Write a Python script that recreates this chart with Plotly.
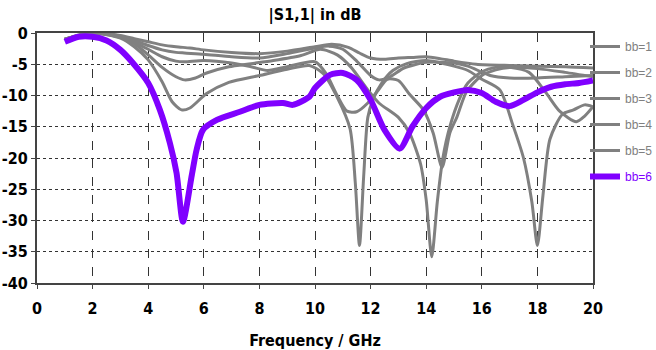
import plotly.graph_objects as go

# ---- data (frequency in GHz, |S11| in dB) ----
f_bb1 = [1, 1.5, 2, 2.5, 3, 3.5, 4, 4.5, 5, 5.5, 6, 7, 8, 9, 10, 10.6, 11.2, 11.6, 12, 12.5, 13, 13.5, 14, 14.5, 15, 15.8, 17, 18, 19, 20]
s_bb1 = [-1.0, -0.3, 0.0, -0.1, -0.4, -0.9, -1.4, -1.9, -2.2, -2.4, -2.7, -3.1, -3.3, -2.9, -2.2, -1.8, -2.3, -3.2, -4.0, -4.2, -4.0, -3.9, -3.8, -4.1, -4.5, -5.0, -5.2, -5.3, -5.4, -5.6]

f_bb2 = [1, 2, 3, 3.5, 4, 4.5, 5, 5.3, 6, 7, 8, 9, 10, 10.5, 11, 11.5, 12, 12.3, 12.7, 13.2, 14, 15, 15.5, 16.3, 17, 18, 19, 20]
s_bb2 = [-1.0, 0.0, -0.5, -1.2, -2.0, -2.7, -3.1, -3.2, -3.4, -3.8, -4.0, -3.3, -2.4, -2.1, -2.6, -4.5, -6.8, -7.5, -7.0, -5.6, -4.7, -4.8, -5.3, -6.8, -7.2, -7.2, -7.0, -6.8]

f_bb3 = [1, 2, 3, 3.5, 4, 4.5, 5, 5.3, 6, 7, 7.7, 8.3, 9, 10, 10.4, 10.8, 11.15, 11.5, 11.9, 12.3, 12.6, 13.0, 13.4, 13.9, 14.25, 14.57, 14.85, 15.1, 15.45, 16, 16.5, 17, 18, 19, 20]
s_bb3 = [-1.0, 0.0, -0.6, -1.5, -2.6, -3.8, -4.5, -4.6, -4.4, -4.8, -5.4, -6.0, -5.4, -4.6, -6.5, -10.0, -12.5, -12.6, -11.2, -9.0, -7.4, -7.6, -9.8, -12.3, -16.0, -21.5, -16.0, -13.5, -9.4, -6.8, -5.9, -5.5, -5.7, -6.3, -7.0]

f_bb4 = [1, 2, 3, 3.5, 4, 4.5, 5, 5.3, 5.7, 6.1, 6.9, 7.7, 8.5, 9.5, 10.2, 10.8, 11.3, 11.9, 12.3, 13.0, 13.4, 13.8, 14.0, 14.2, 14.4, 14.6, 14.85, 15.2, 15.5, 16, 16.5, 17, 17.7, 18.3, 18.8, 19.4, 19.7, 20]
s_bb4 = [-1.0, 0.0, -0.7, -1.7, -3.5, -5.5, -7.0, -7.5, -7.2, -6.4, -5.4, -4.9, -4.4, -3.6, -2.6, -3.5, -5.5, -9.1, -11.2, -13.5, -16.0, -21.0, -26.7, -35.8, -27.0, -20.0, -15.0, -10.5, -8.0, -6.2, -5.5, -5.5, -6.3, -9.5, -12.5, -14.2, -13.3, -11.8]

f_bb5 = [1, 2, 3, 3.5, 4, 4.5, 4.86, 5.2, 5.5, 6.1, 6.9, 8, 9, 9.8, 10.3, 10.8, 11.26, 11.45, 11.6, 11.75, 11.9, 12.1, 12.4, 12.8, 13.3, 14, 15, 15.5, 16, 16.65, 17.1, 17.5, 17.8, 18.0, 18.2, 18.45, 18.9, 19.3, 19.7, 20]
s_bb5 = [-1.0, 0.0, -0.8, -2.2, -4.3, -7.8, -11.0, -12.3, -12.0, -9.7, -7.9, -6.8, -5.8, -5.2, -6.5, -10.3, -15.3, -24.0, -34.0, -23.0, -13.5, -10.5, -8.0, -6.0, -4.9, -4.4, -5.3, -6.0, -7.4, -9.1, -14.5, -20.0, -27.0, -34.0, -26.0, -17.0, -13.0, -12.3, -11.5, -11.8]

f_bb6 = [1.0, 1.5, 2.0, 2.5, 3.0, 3.45, 4.0, 4.42, 4.78, 5.02, 5.25, 5.57, 5.74, 5.97, 6.47, 7.3, 8.0, 8.85, 9.2, 9.8, 10.0, 10.54, 11.0, 11.5, 12.0, 12.5, 13.05, 13.5, 14.0, 14.5, 15.0, 15.5, 16.0, 16.5, 17.0, 17.5, 18.0, 18.5, 19.0, 19.5, 20.0]
s_bb6 = [-1.4, -0.6, -0.6, -1.2, -2.7, -4.8, -8.0, -12.3, -17.6, -22.4, -30.2, -22.7, -18.7, -15.5, -13.9, -12.6, -11.5, -11.2, -11.5, -10.2, -8.8, -6.7, -6.4, -7.5, -10.7, -15.5, -18.5, -15.0, -12.0, -10.2, -9.5, -9.1, -9.6, -11.0, -11.7, -10.7, -9.5, -8.6, -8.2, -8.0, -7.6]

series_names = ["bb=1", "bb=2", "bb=3", "bb=4", "bb=5", "bb=6"]
x_ticks = [0, 2, 4, 6, 8, 10, 12, 14, 16, 18, 20]
y_ticks = [0, -5, -10, -15, -20, -25, -30, -35, -40]

GRAY = "#808080"
PURPLE = "#8000ff"
FONT = "DejaVu Sans Condensed"
LEG_FONT = "Liberation Sans"

fig = go.Figure()
gray_sets = [(f_bb1, s_bb1), (f_bb2, s_bb2), (f_bb3, s_bb3), (f_bb4, s_bb4), (f_bb5, s_bb5)]
for i, (fx, sy) in enumerate(gray_sets):
    fig.add_trace(go.Scatter(
        x=fx, y=sy, mode="lines", name=series_names[i],
        line=dict(color=GRAY, width=3, shape="spline", smoothing=0.7),
        legendgroup=series_names[i],
    ))
fig.add_trace(go.Scatter(
    x=f_bb6, y=s_bb6, mode="lines",
    name="<span style='color:%s'>%s</span>" % (PURPLE, series_names[5]),
    line=dict(color=PURPLE, width=6, shape="spline", smoothing=0.7),
    legendgroup=series_names[5],
))

fig.update_layout(
    width=656, height=350,
    margin=dict(l=37, r=63, t=33, b=67, autoexpand=False),
    paper_bgcolor="white", plot_bgcolor="white",
    title=dict(text="<b>|S1,1| in dB</b>", x=315 / 656, xanchor="center",
               y=1 - 14 / 350, yanchor="middle",
               font=dict(family=FONT, size=16, color="black")),
    showlegend=True,
    legend=dict(xref="container", yref="container",
                x=585 / 656, xanchor="left", y=1 - 32 / 350, yanchor="top",
                font=dict(family=LEG_FONT, size=12, color=GRAY),
                bgcolor="rgba(0,0,0,0)", traceorder="grouped",
                tracegroupgap=7, itemwidth=30),
    xaxis=dict(range=[0, 20], tickvals=x_ticks, ticktext=["<b>%d</b>" % v for v in x_ticks],
               showgrid=True, gridcolor="#333333", gridwidth=1, griddash="dash",
               showline=True, linecolor="#444444", linewidth=2, mirror=True,
               ticks="outside", ticklen=4, tickcolor="#444444",
               ticklabelstandoff=6,
               tickfont=dict(family=FONT, size=16, color="black"),
               automargin=False,
               title=dict(text="<b>Frequency / GHz</b>", standoff=20,
                          font=dict(family=FONT, size=16, color="black")),
               zeroline=False),
    yaxis=dict(range=[-40, 0], tickvals=y_ticks, ticktext=["<b>%d</b>" % v for v in y_ticks],
               showgrid=True, gridcolor="#333333", gridwidth=1, griddash="dot",
               showline=True, linecolor="#444444", linewidth=2, mirror=True,
               ticks="outside", ticklen=4, tickcolor="#444444",
               tickfont=dict(family=FONT, size=16, color="black"),
               automargin=False,
               zeroline=False),
)

fig.write_html("out.html")
